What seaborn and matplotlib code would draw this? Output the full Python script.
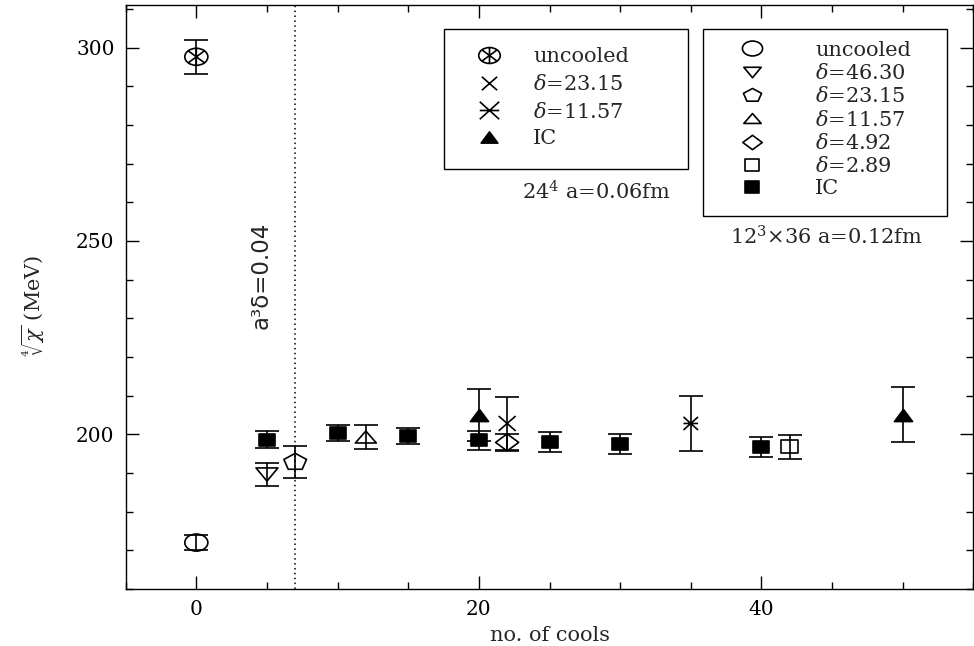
import numpy as np
import matplotlib
matplotlib.use("Agg")
import matplotlib.pyplot as plt
from matplotlib.path import Path
from matplotlib.lines import Line2D
from matplotlib.patches import Rectangle
from matplotlib.ticker import MultipleLocator
import seaborn as sns

# ---------------- data ----------------
# 24^4, a=0.06 fm
l24_unc_x = [0];       l24_unc_y = [297.6];   l24_unc_e = [4.4]
l24_d2315_x = [22];    l24_d2315_y = [202.8]; l24_d2315_e = [6.8]
l24_d1157_x = [35];    l24_d1157_y = [202.8]; l24_d1157_e = [7.0]
l24_ic_x = [20, 50];   l24_ic_y = [205.0, 205.1]; l24_ic_e = [6.8, 7.2]

# 12^3x36, a=0.12 fm
l12_unc_x = [0];       l12_unc_y = [172.0];   l12_unc_e = [2.0]
l12_d4630_x = [5];     l12_d4630_y = [189.6]; l12_d4630_e = [3.0]
l12_d2315_x = [7];     l12_d2315_y = [192.8]; l12_d2315_e = [4.05]
l12_d1157_x = [12];    l12_d1157_y = [199.3]; l12_d1157_e = [3.0]
l12_d492_x = [22];     l12_d492_y = [197.9];  l12_d492_e = [2.15]
l12_d289_x = [42];     l12_d289_y = [196.8];  l12_d289_e = [3.1]
l12_ic_x = [5, 10, 15, 20, 25, 30, 40]
l12_ic_y = [198.6, 200.3, 199.6, 198.5, 197.9, 197.5, 196.7]
l12_ic_e = [2.25, 2.07, 2.07, 2.46, 2.6, 2.5, 2.5]

leg24_labels = ["uncooled", r"$\delta$=23.15", r"$\delta$=11.57", "IC"]
leg12_labels = ["uncooled", r"$\delta$=46.30", r"$\delta$=23.15", r"$\delta$=11.57",
                r"$\delta$=4.92", r"$\delta$=2.89", "IC"]
x_ticks = [0, 20, 40]
y_ticks = [200, 250, 300]

# ---------------- style ----------------
sns.set_style("ticks")
plt.rcParams["font.family"] = ["DejaVu Serif"]
plt.rcParams["mathtext.fontset"] = "dejavuserif"
FS = 15
TFS = 14.5

# ---------------- marker shapes ----------------
def closed(pts, sy=1.0):
    p = np.asarray(pts, float).copy()
    p[:, 1] *= sy
    verts = np.vstack([p, p[:1]])
    codes = [Path.MOVETO] + [Path.LINETO] * (len(p) - 1) + [Path.CLOSEPOLY]
    return Path(verts, codes)

def seg(a, b, sy=1.0):
    return Path([[a[0], a[1] * sy], [b[0], b[1] * sy]], [Path.MOVETO, Path.LINETO])

def ellipse(sy):
    c = Path.unit_circle()
    return Path(c.vertices * np.array([1.0, sy]), c.codes)

M_ELL = ellipse(0.74)
M_ELLAST = Path.make_compound_path(
    ellipse(0.74),
    seg((-0.707, -0.523), (0.707, 0.523)),
    seg((-0.707, 0.523), (0.707, -0.523)),
    seg((0, -0.74), (0, 0.74)))
M_SQ = closed([(-1, -1), (1, -1), (1, 1), (-1, 1)], 0.76)
M_TRID = closed([(-1, 1), (1, 1), (0, -1)], 0.6)
M_TRIU = closed([(-1, -1), (1, -1), (0, 1)], 0.57)
M_TRIF = closed([(-1, -1), (1, -1), (0, 1)], 0.67)
_ang = np.deg2rad(90 + 72 * np.arange(5))
M_PENT = closed(np.c_[np.cos(_ang), np.sin(_ang)] / 0.951, 0.74)
M_DIAM = closed([(0, 1), (1, 0), (0, -1), (-1, 0)], 0.74)
M_X = Path.make_compound_path(seg((-1, -1), (1, 1), 0.88), seg((-1, 1), (1, -1), 0.88))
M_AST = Path.make_compound_path(seg((-1, -1), (1, 1), 0.9), seg((-1, 1), (1, -1), 0.9),
                                seg((-1, 0), (1, 0)))

# ---------------- figure ----------------
W, H = 974, 646
fig = plt.figure(figsize=(W / 100, H / 100), dpi=100)
ax = fig.add_axes([125.7 / W, 1 - 589 / H, (973.3 - 125.7) / W, (589 - 5) / H])

LW = 1.2
CAP = 8.3

def series(xs, ys, es, marker, size, filled=False):
    ax.errorbar(xs, ys, yerr=es, fmt="none", ecolor="black", elinewidth=LW,
                capsize=CAP, capthick=LW, zorder=2)
    sns.scatterplot(x=xs, y=ys, marker=marker, s=size ** 2, color="black",
                    facecolor="black" if filled else "none", edgecolor="black",
                    linewidth=LW, ax=ax, legend=False, zorder=3)

# 12^3x36 points
series(l12_unc_x, l12_unc_y, l12_unc_e, M_ELL, 16.6)
series(l12_d4630_x, l12_d4630_y, l12_d4630_e, M_TRID, 15.8)
series(l12_d2315_x, l12_d2315_y, l12_d2315_e, M_PENT, 16.3)
series(l12_d1157_x, l12_d1157_y, l12_d1157_e, M_TRIU, 15.1)
series(l12_d492_x, l12_d492_y, l12_d492_e, M_DIAM, 16.6)
series(l12_d289_x, l12_d289_y, l12_d289_e, M_SQ, 12.2)
series(l12_ic_x, l12_ic_y, l12_ic_e, M_SQ, 12.2, filled=True)
# 24^4 points
series(l24_unc_x, l24_unc_y, l24_unc_e, M_ELLAST, 16.6)
series(l24_d2315_x, l24_d2315_y, l24_d2315_e, M_X, 12.2)
series(l24_d1157_x, l24_d1157_y, l24_d1157_e, M_AST, 10.5)
series(l24_ic_x, l24_ic_y, l24_ic_e, M_TRIF, 13.0, filled=True)

ax.axvline(7, color="black", lw=1.1, ls=(0, (1, 2.2)), zorder=1)
ax.text(4.6, 241, "a³δ=0.04", rotation=90, ha="center", va="center",
        fontsize=16.5, family="DejaVu Sans")

# axes
ax.set_xlim(-5, 55)
ax.set_ylim(160, 311)
ax.set_xticks(x_ticks)
ax.set_yticks(y_ticks)
ax.xaxis.set_minor_locator(MultipleLocator(5))
ax.yaxis.set_minor_locator(MultipleLocator(10))
ax.tick_params(which="both", direction="in", top=True, right=True, width=1.0,
               labelsize=TFS, colors="black")
ax.tick_params(which="major", length=9.4, pad=8)
ax.tick_params(which="minor", length=4.7)
for s in ax.spines.values():
    s.set_linewidth(1.0)
    s.set_color("black")
ax.set_xlabel("no. of cools", fontsize=FS, labelpad=5)
ax.set_ylabel(r"$\sqrt[4]{\chi}$ (MeV)", fontsize=FS)
ax.yaxis.set_label_coords(-0.093, 0.485)

# ---------------- legends ----------------
def handle(marker, ms, filled=False):
    return Line2D([], [], ls="none", marker=marker, markersize=ms,
                  markerfacecolor="black" if filled else "none",
                  markeredgecolor="black", markeredgewidth=LW)

h24 = [handle(M_ELLAST, 15.5), handle(M_X, 11), handle(M_AST, 14),
       handle(M_TRIF, 12, True)]
h12 = [handle(M_ELL, 14.5), handle(M_TRID, 12.5), handle(M_PENT, 13),
       handle(M_TRIU, 12.5), handle(M_DIAM, 14), handle(M_SQ, 10.5),
       handle(M_SQ, 10.5, True)]

fs_px = FS * 100 / 72
leg1 = ax.legend(h24, leg24_labels, loc="upper left",
                 bbox_to_anchor=(468 / W, 1 - 47.5 / H), bbox_transform=fig.transFigure,
                 frameon=False, borderpad=0, borderaxespad=0, fontsize=FS,
                 handlelength=2, handletextpad=(533.3 - 468 - 2 * fs_px) / fs_px,
                 labelspacing=0.36)
ax.add_artist(leg1)
leg2 = ax.legend(h12, leg12_labels, loc="upper left",
                 bbox_to_anchor=(731 / W, 1 - 40.5 / H), bbox_transform=fig.transFigure,
                 frameon=False, borderpad=0, borderaxespad=0, fontsize=FS,
                 handlelength=2, handletextpad=(815 - 731 - 2 * fs_px) / fs_px,
                 labelspacing=0.16)

for (x0, y0, x1, y1) in [(444.3, 29, 688.3, 169.3), (703.3, 29.3, 946.7, 216)]:
    fig.add_artist(Rectangle((x0 / W, 1 - y1 / H), (x1 - x0) / W, (y1 - y0) / H,
                             transform=fig.transFigure, fill=False, lw=1.0,
                             ec="black", zorder=5))

fig.text(596 / W, 1 - 191.7 / H, r"$24^4$ a=0.06fm", ha="center", va="center", fontsize=FS)
fig.text(826.7 / W, 1 - 236.7 / H, r"$12^3$×36 a=0.12fm", ha="center", va="center", fontsize=FS)

fig.savefig("out.png", dpi=100)
